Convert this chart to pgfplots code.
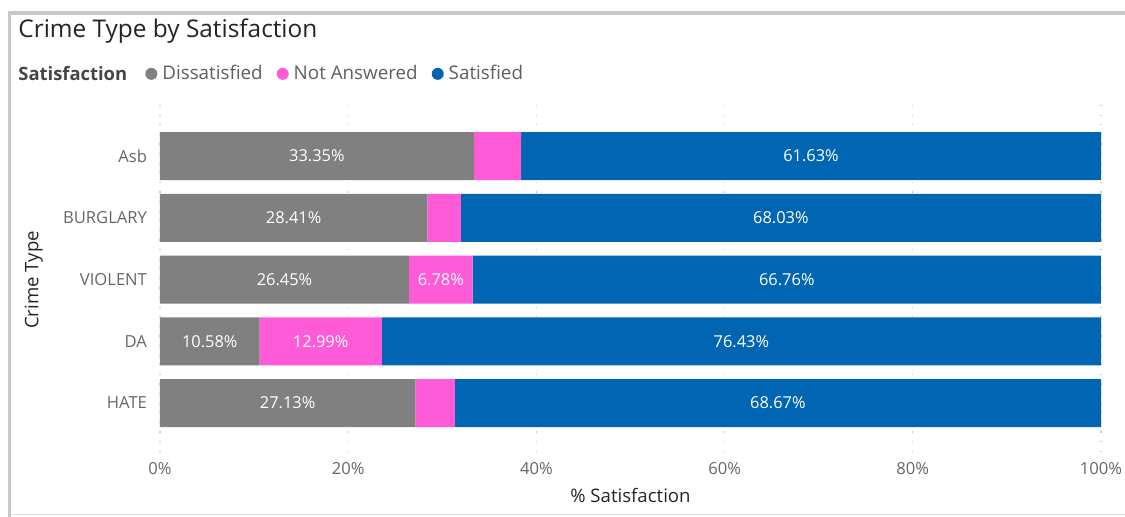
\documentclass[border=0pt]{standalone}
\usepackage{fontspec}
\setmainfont{Open Sans}
\usepackage{pgfplots}
\usepackage{pgfplotstable}
\pgfplotsset{compat=1.18}
\definecolor{cDis}{HTML}{808080}
\definecolor{cNA}{HTML}{FF5BD8}
\definecolor{cSat}{HTML}{0066B3}
\definecolor{frameC}{HTML}{C8C8C8}
\definecolor{tickC}{HTML}{666666}
\definecolor{titleC}{HTML}{252423}
\definecolor{legC}{HTML}{605E5C}

\pgfplotstableread{
y dis na sat
0 33.35 5.02 61.63
1 28.41 3.56 68.03
2 26.45 6.78 66.76
3 10.58 12.99 76.43
4 27.13 4.20 68.67
}\bars

\pgfplotstableread{
y s v
0 0 33.35
1 0 28.41
2 0 26.45
3 0 10.58
4 0 27.13
2 26.45 6.78
3 10.58 12.99
0 38.37 61.63
1 31.97 68.03
2 33.23 66.76
3 23.57 76.43
4 31.33 68.67
}\labels

\pgfplotsset{
  base/.style={
    at={(80pt,-227.5pt)}, anchor=south west,
    scale only axis, width=470.5pt, height=175pt,
    xmin=0, xmax=100, ymin=-0.826, ymax=4.842,
    y dir=reverse,
    /pgf/number format/assume math mode=true,
  }
}

\begin{document}
\begin{tikzpicture}[x=0.5pt,y=-0.5pt]
\useasboundingbox (0,0) rectangle (1125,517);
% frame
\fill[frameC] (8,11) rectangle (1125,15);
\fill[frameC] (8,11) rectangle (11,517);
\draw[gray!25, line width=0.5pt] (11,515) -- (1125,515);

\begin{axis}[base,
  xbar stacked, bar width=24pt,
  axis line style={draw=none},
  major tick length=0pt,
  xtick={0,20,40,60,80,100},
  xticklabel={\pgfmathprintnumber{\tick}\%},
  ytick={0,1,2,3,4},
  yticklabels={Asb,BURGLARY,VIOLENT,DA,HATE},
  tick label style={font=\fontsize{8.3}{9}\selectfont, text=tickC},
  yticklabel style={xshift=-3pt},
  xticklabel style={yshift=0pt},
  xmajorgrids, ymajorgrids=false,
  major grid style={gray!45, line width=0.6pt, dash pattern=on 0.6pt off 4.2pt},
  xlabel={\% Satisfaction},
  ylabel={Crime Type},
  label style={font=\fontsize{9.3}{10}\selectfont, text=titleC},
  xlabel style={at={(axis description cs:0.5,-0.117)}, anchor=center},
  ylabel style={at={(axis description cs:-0.134,0.5)}, anchor=center},
  legend style={at={(axis description cs:-0.016,1.089)}, anchor=west,
    legend columns=-1, draw=none, fill=none,
    font=\fontsize{9.4}{10}\selectfont, text=legC,
    inner sep=0pt,
    /tikz/every odd column/.append style={column sep=0.5pt},
    /tikz/every even column/.append style={column sep=5pt}},
  legend image code/.code={\fill (0.1cm,0cm) circle (3pt);},
]
\addplot[fill=cDis, draw=none] table[x=dis, y=y] {\bars};
\addplot[fill=cNA, draw=none] table[x=na, y=y] {\bars};
\addplot[fill=cSat, draw=none] table[x=sat, y=y] {\bars};
\legend{Dissatisfied, Not Answered, Satisfied}
\end{axis}

\begin{axis}[base, hide axis]
\addplot[draw=none, mark=none,
  nodes near coords={\pgfmathprintnumber[fixed, precision=2, fixed zerofill]{\pgfplotspointmeta}\%},
  nodes near coords align=center,
  every node near coord/.append style={font=\fontsize{8.2}{9}\selectfont, text=white, anchor=center},
  point meta=\thisrow{v}]
  table[x expr=\thisrow{s}+\thisrow{v}/2, y=y] {\labels};
\end{axis}

\node[anchor=west, inner sep=0pt, text=titleC, font=\fontsize{12.2}{14}\selectfont] at (18,31) {Crime Type by Satisfaction};
\node[anchor=west, inner sep=0pt, text=titleC!85, font=\bfseries\fontsize{9.2}{10}\selectfont] at (18,74) {Satisfaction};
\end{tikzpicture}
\end{document}
